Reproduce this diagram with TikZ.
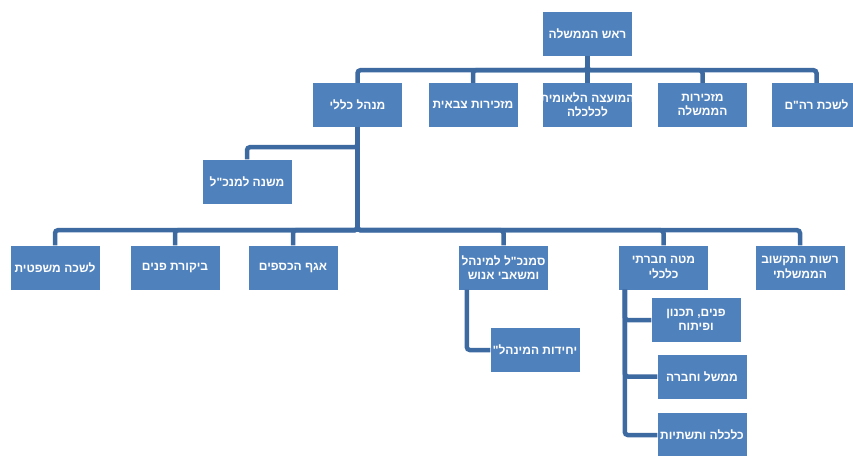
\documentclass[tikz,border=0pt]{standalone}
\usepackage{fontspec}
\newfontfamily\hebfont[Script=Hebrew, BoldFont={Liberation Sans Bold}]{Liberation Sans}
\TeXXeTstate=1
\usepackage{tikz}
\usetikzlibrary{calc}
\usepackage{xcolor}
\definecolor{boxblue}{RGB}{79,129,189}
\definecolor{linkblue}{RGB}{62,106,162}
\newcommand{\heb}[1]{\beginR #1\endR}

\begin{document}
\begin{tikzpicture}[x=1pt, y=-1pt,
  unit/.style={fill=boxblue, text=white, font=\hebfont\bfseries\fontsize{12}{14.5}\selectfont,
    minimum width=89pt, minimum height=44pt, align=center, inner sep=1pt},
  link/.style={linkblue, line width=4.5pt, rounded corners=3pt}]
  \useasboundingbox (0,0) rectangle (853,455);
  \clip (0,0) rectangle (853,455);
  % top
  \node[unit] (pm) at (587.5,34) {\heb{ראש הממשלה}};
  \node[unit] (gm) at (357.5,105) {\heb{מנהל כללי}};
  \node[unit] (mil) at (473,105) {\heb{מזכירות צבאית}};
  \node[unit] (nec) at (587.5,105) {\makebox[85pt]{\heb{המועצה הלאומית}}\\\heb{לכלכלה}};
  \node[unit] (sec) at (702.5,105) {\heb{מזכירות}\\\heb{הממשלה}};
  \node[unit] (pmo) at (816.5,105) {\heb{לשכת רה"ם}};
  % under the general manager
  \node[unit] (dep) at (247,181.5) {\heb{משנה למנכ"ל}};
  \node[unit] (legal) at (55,267.5) {\heb{לשכה משפטית}};
  \node[unit] (audit) at (175,267.5) {\heb{ביקורת פנים}};
  \node[unit] (fin) at (293,267.5) {\heb{אגף הכספים}};
  \node[unit] (vp) at (503.5,267.5) {\heb{סמנכ"ל למינהל}\\\heb{ומשאבי אנוש}};
  \node[unit] (soc) at (663.5,267.5) {\heb{מטה חברתי}\\\heb{כלכלי}};
  \node[unit] (ict) at (800,267.5) {\heb{רשות התקשוב}\\\heb{הממשלתי}};
  % sub units
  \node[unit] (units) at (535,350) {\heb{יחידות המינהל"}};
  \node[unit] (plan) at (696,320) {\heb{פנים, תכנון}\\\heb{ופיתוח}};
  \node[unit] (welfare) at (702,376.5) {\heb{ממשל וחברה}};
  \node[unit] (econ) at (702,435) {\heb{כלכלה ותשתיות}};
  % links
  \foreach \n in {gm,mil,nec,sec,pmo}
    \draw[link] (pm.south) -- ++(0,14) -| (\n.north);
  \draw[link] (gm.south) -- ++(0,20) -| (dep.north);
  \foreach \n in {legal,audit,fin,vp,soc,ict}
    \draw[link] (gm.south) -- ++(0,103) -| (\n.north);
  \draw[link] ($(vp.south west)+(8,0)$) |- (units.west);
  \foreach \n in {plan,welfare,econ}
    \draw[link] ($(soc.south west)+(6,0)$) |- (\n.west);
\end{tikzpicture}
\end{document}
